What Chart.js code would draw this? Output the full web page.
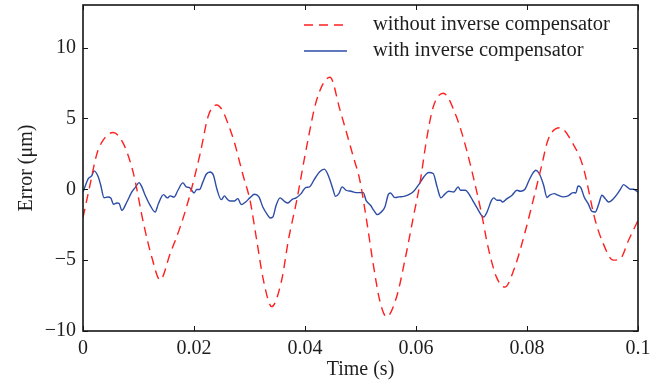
<!DOCTYPE html>
<html><head><meta charset="utf-8">
<script src="https://cdn.jsdelivr.net/npm/chart.js@4.4.0/dist/chart.umd.min.js"></script>
<style>html,body{margin:0;padding:0;background:#fff;}#wrap{width:665px;height:382px;}</style>
</head><body><div id="wrap"><canvas id="c" width="665" height="382"></canvas></div>
<script>
const xTicks = [0, 0.02, 0.04, 0.06, 0.08, 0.1];
const yTicks = [-10, -5, 0, 5, 10];
const seriesNames = ['without inverse compensator', 'with inverse compensator'];
const xTitle = 'Time (s)';
const yTitle = 'Error (\u03bcm)';

const redT = [0, 0.0011, 0.0025, 0.0037, 0.0054, 0.0073, 0.0091, 0.0109, 0.0124, 0.0139, 0.0157, 0.0175, 0.019,
  0.0211, 0.0226, 0.0241, 0.0268, 0.0289, 0.0301, 0.0313, 0.0325, 0.034, 0.0358, 0.037, 0.0385,
  0.0403, 0.0421, 0.0445, 0.0463, 0.0487, 0.0499, 0.0511, 0.0523, 0.0535, 0.0547, 0.0565, 0.058, 0.0595,
  0.0607, 0.0619, 0.0631, 0.0649, 0.0673, 0.0691, 0.0709, 0.0718, 0.073, 0.0745, 0.076, 0.0778, 0.0796, 0.0811,
  0.0826, 0.0838, 0.0859, 0.0883, 0.0901, 0.0923, 0.0937, 0.0955, 0.0968, 0.0983, 0.1];
const redE = [-2.0, 0.0, 2.5, 3.5, 4.0, 3.2, 1.1, -2.4, -4.8, -6.4, -4.55, -2.67, -0.78,
  2.5, 5.2, 5.95, 3.9, 0.9, -0.8, -3.6, -6.4, -8.28, -6.4, -3.6, -0.8,
  3.0, 6.3, 7.9, 5.6, 2.3, 0.6, -2.2, -5.3, -7.9, -9.0, -7.6, -5.0, -2.0,
  0.4, 3.5, 5.8, 6.77, 5.1, 2.8, -0.1, -1.7, -4.1, -6.2, -6.9, -5.5, -3.1, -0.8,
  1.6, 3.5, 4.34, 3.2, 1.6, -2.2, -3.8, -5.0, -4.9, -3.6, -2.2];

const blueT = [0, 0.00096, 0.00156, 0.002, 0.00276, 0.0032, 0.0038, 0.0045, 0.005, 0.0055, 0.0061, 0.0065, 0.007,
  0.0079, 0.0088, 0.0095, 0.0101, 0.0106, 0.0112, 0.0121, 0.013, 0.0136, 0.0145, 0.0152, 0.0157, 0.0164,
  0.0171, 0.018, 0.0186, 0.0192, 0.02, 0.0205, 0.021, 0.0216, 0.0222, 0.0229, 0.0235, 0.0241, 0.0249,
  0.0255, 0.0259, 0.0265, 0.0273, 0.0279, 0.0285, 0.0293, 0.0301, 0.0309, 0.0317, 0.0324, 0.0333, 0.0337,
  0.0342, 0.0348, 0.0355, 0.0363, 0.0369, 0.0377, 0.0384, 0.0393, 0.0401, 0.0408, 0.0417, 0.0426, 0.0435,
  0.0443, 0.045, 0.0455, 0.0461, 0.0467, 0.0474, 0.0483, 0.0492, 0.0505, 0.051, 0.0518, 0.0524, 0.053,
  0.0536, 0.0544, 0.055, 0.0554, 0.0562, 0.0569, 0.0578, 0.0587, 0.0596, 0.0605, 0.0614, 0.0623, 0.0631,
  0.0638, 0.0645, 0.065, 0.0659, 0.0668, 0.0676, 0.068, 0.0689, 0.0695, 0.0702, 0.071, 0.0718, 0.0722,
  0.0728, 0.0736, 0.074, 0.0746, 0.0752, 0.0756, 0.0764, 0.0773, 0.0782, 0.0788, 0.0796, 0.0803, 0.081,
  0.0816, 0.0822, 0.083, 0.0836, 0.0841, 0.0849, 0.0856, 0.0865, 0.0874, 0.0883, 0.0888, 0.0892, 0.0897,
  0.0903, 0.091, 0.0917, 0.0923, 0.0929, 0.0935, 0.0941, 0.0947, 0.0956, 0.0963, 0.0969, 0.0974, 0.098,
  0.0986, 0.0992, 0.1];
const blueE = [-0.2, 0.75, 0.94, 1.3, 0.87, 0.28, -0.6, -0.55, -0.62, -1.06, -0.97, -1.0, -1.49,
  -0.9, -0.19, 0.17, 0.47, 0.17, -0.42, -1.13, -1.6, -1.0, -0.38, -0.61, -0.47, -0.55,
  -0.07, 0.45, 0.17, 0.12, -0.26, -0.02, -0.02, 0.52, 1.06, 1.22, 0.99, 0.05, -0.73,
  -0.47, -0.66, -0.83, -0.83, -0.66, -1.08, -0.9, -0.59, -0.35, -0.54, -1.25, -1.84, -2.03,
  -1.96, -1.13, -0.61, -0.85, -0.97, -0.71, -0.61, -0.31, 0.12, 0.17, 0.71, 1.22, 1.42,
  0.87, 0.05, -0.5, -0.31, 0.17, -0.07, -0.14, -0.24, -0.24, -0.78, -1.13, -1.49, -1.79,
  -1.65, -1.25, -0.38, -0.26, -0.59, -0.54, -0.5, -0.38, -0.14, 0.33, 0.87, 1.18, 1.11,
  0.17, -0.61, -0.42, -0.14, -0.19, 0.17, -0.07, -0.07, -0.31, -0.78, -1.32, -1.84, -1.96,
  -1.6, -0.78, -0.61, -0.78, -0.78, -0.9, -0.66, -0.42, -0.07, -0.14, -0.02, 0.57, 1.11,
  1.34, 1.11, 0.28, -0.58, -0.42, -0.31, -0.42, -0.54, -0.47, -0.24, -0.26, 0.23, 0.12,
  -0.54, -1.0, -1.56, -1.6, -1.08, -0.42, -0.66, -0.9, -0.66, -0.31, 0.05, 0.33, 0.17,
  0.0, 0.0, -0.2];

const RED = '#ff1f1f';
const BLUE = '#2c4ca6';
const FONT = "'Liberation Serif', 'Times New Roman', serif";
const TXT = '#1e1e1e';

const framePlugin = {
  id: 'frame',
  afterDraw(chart) {
    const ctx = chart.ctx;
    const a = chart.chartArea;
    const xs = chart.scales.x, ys = chart.scales.y;
    ctx.save();
    ctx.strokeStyle = '#151515';
    ctx.lineWidth = 1.6;
    ctx.strokeRect(a.left, a.top, a.right - a.left, a.bottom - a.top);
    ctx.lineWidth = 1;
    const tl = 5;
    ctx.beginPath();
    xTicks.forEach(v => {
      const p = Math.round(xs.getPixelForValue(v)) + 0.5;
      ctx.moveTo(p, a.bottom); ctx.lineTo(p, a.bottom - tl);
      ctx.moveTo(p, a.top); ctx.lineTo(p, a.top + tl);
    });
    yTicks.forEach(v => {
      const p = Math.round(ys.getPixelForValue(v)) + 0.5;
      ctx.moveTo(a.left, p); ctx.lineTo(a.left + tl, p);
      ctx.moveTo(a.right, p); ctx.lineTo(a.right - tl, p);
    });
    ctx.stroke();
    // legend
    const lx0 = a.right - 334, lx1 = a.right - 291, tx = a.right - 265;
    const rows = [a.top + 20, a.top + 46];
    const styles = [{c: RED, d: [9, 6]}, {c: BLUE, d: []}];
    ctx.font = '20.5px ' + FONT;
    ctx.textBaseline = 'middle';
    ctx.textAlign = 'left';
    rows.forEach((y, i) => {
      ctx.strokeStyle = styles[i].c;
      ctx.lineWidth = 1.4;
      ctx.setLineDash(styles[i].d);
      ctx.beginPath(); ctx.moveTo(lx0, y); ctx.lineTo(lx1, y); ctx.stroke();
      ctx.setLineDash([]);
      ctx.fillStyle = TXT;
      ctx.fillText(seriesNames[i], tx, y);
    });
    ctx.restore();
  }
};

const fmtY = v => v < 0 ? '\u2212' + Math.abs(v) : String(v);

new Chart(document.getElementById('c'), {
  type: 'line',
  data: {
    datasets: [
      {
        label: seriesNames[0],
        data: redT.map((t, i) => ({x: t, y: redE[i]})),
        borderColor: RED, borderWidth: 1.4, borderDash: [9, 6],
        pointRadius: 0, cubicInterpolationMode: 'monotone', fill: false
      },
      {
        label: seriesNames[1],
        data: blueT.map((t, i) => ({x: t, y: blueE[i]})),
        borderColor: BLUE, borderWidth: 1.4,
        pointRadius: 0, cubicInterpolationMode: 'monotone', fill: false
      }
    ]
  },
  options: {
    responsive: false,
    animation: false,
    devicePixelRatio: 1,
    layout: {padding: {left: 0, top: 5, right: 27, bottom: 0}},
    plugins: {legend: {display: false}, tooltip: {enabled: false}},
    scales: {
      x: {
        type: 'linear', min: 0, max: 0.1,
        afterBuildTicks: s => { s.ticks = xTicks.map(v => ({value: v})); },
        afterFit: s => { s.height = 51; s.paddingLeft = 0; s.paddingRight = 0; },
        grid: {display: false, drawTicks: false},
        border: {display: false},
        ticks: {
          font: {family: FONT, size: 20}, color: TXT, padding: 6,
          maxRotation: 0, autoSkip: false,
          callback: v => String(v)
        },
        title: {display: true, text: xTitle, font: {family: FONT, size: 20}, color: TXT, padding: {top: 0, bottom: 0}}
      },
      y: {
        type: 'linear', min: -10, max: 13,
        afterBuildTicks: s => { s.ticks = yTicks.map(v => ({value: v})); },
        afterFit: s => { s.width = 83; s.paddingTop = 0; s.paddingBottom = 0; },
        grid: {display: false, drawTicks: false},
        border: {display: false},
        ticks: {
          font: {family: FONT, size: 20}, color: TXT, padding: 7,
          autoSkip: false, callback: v => fmtY(v)
        },
        title: {display: true, text: yTitle, font: {family: FONT, size: 20}, color: TXT, padding: {top: 15, bottom: 4}}
      }
    }
  },
  plugins: [framePlugin]
});
</script>
</body></html>
